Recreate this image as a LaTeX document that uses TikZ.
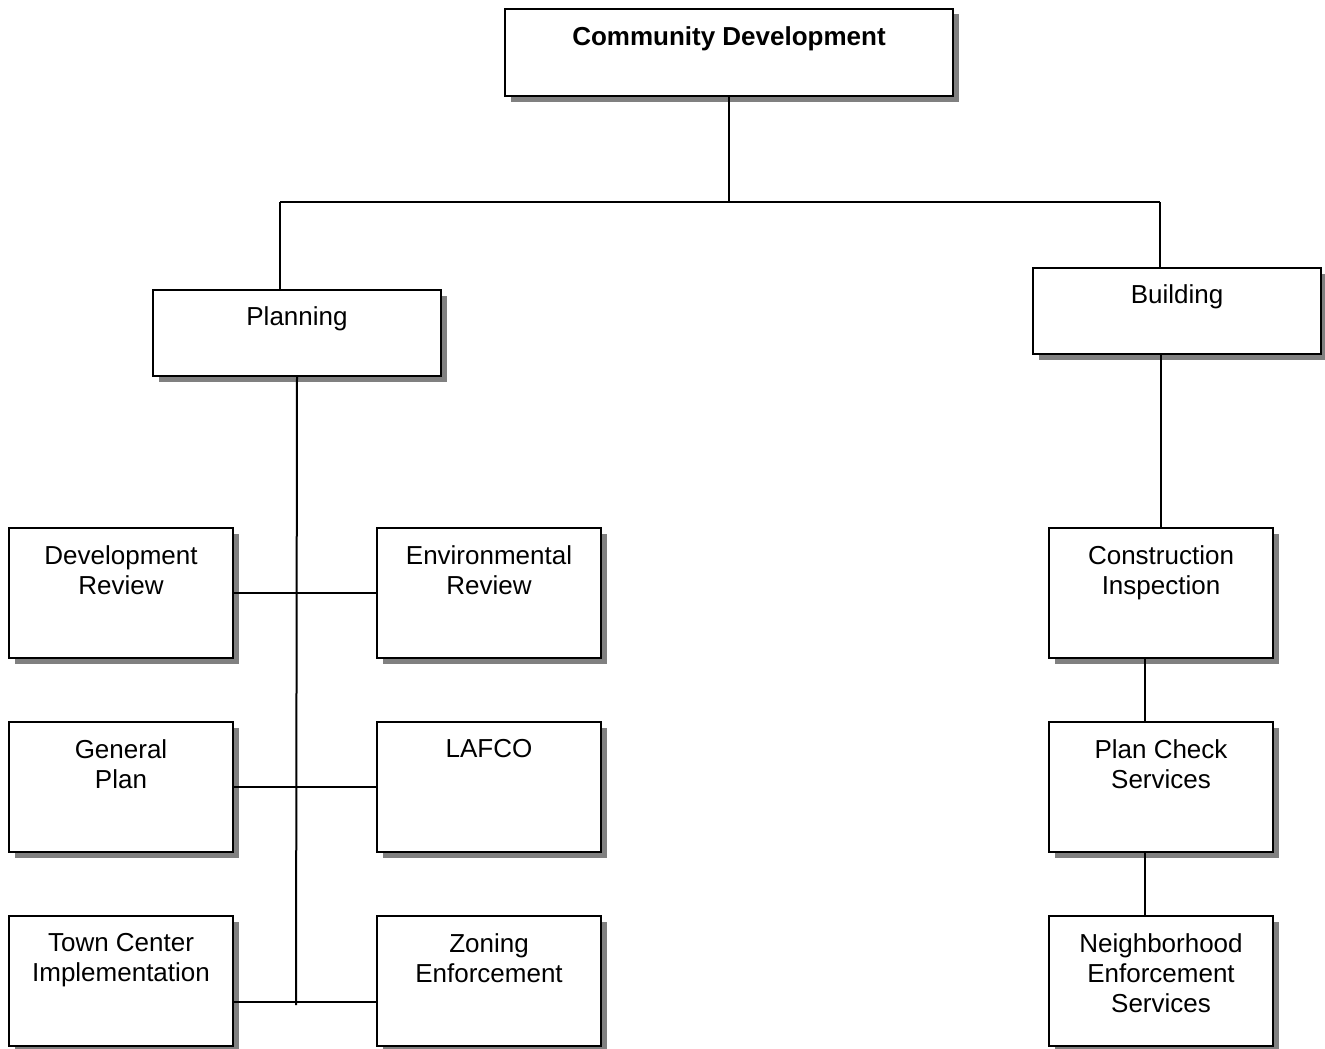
\documentclass[tikz,border=0pt]{standalone}
\usepackage{fontspec}
\setmainfont{Liberation Sans}
\usetikzlibrary{shadows}
\definecolor{shadowgray}{RGB}{128,128,128}
\tikzset{
  orgbox/.style={draw=black, line width=2pt, fill=white, inner sep=0pt,
    anchor=north west,
    drop shadow={shadow xshift=5.5pt, shadow yshift=-5.5pt, fill=shadowgray, opacity=1}},
  wide/.style={minimum width=288pt, minimum height=86pt},
  unit/.style={minimum width=224pt, minimum height=130pt},
  lbl/.style={anchor=north, align=center, inner sep=0pt,
    font=\fontsize{26}{30}\selectfont},
  conn/.style={line width=2pt}
}
\begin{document}
\begin{tikzpicture}[x=1pt,y=-1pt]
\useasboundingbox (0,0) rectangle (1325,1049);
% boxes
\node[orgbox, minimum width=448pt, minimum height=87pt] (cd) at (504,8) {};
\node[orgbox, wide] (pl) at (152,289) {};
\node[orgbox, wide] (bu) at (1032,267) {};
\node[orgbox, unit] (dr) at (8,527) {};
\node[orgbox, unit] (er) at (376,527) {};
\node[orgbox, unit] (gp) at (8,721) {};
\node[orgbox, unit] (la) at (376,721) {};
\node[orgbox, unit] (tc) at (8,915) {};
\node[orgbox, unit] (zo) at (376,915) {};
\node[orgbox, unit] (ci) at (1048,527) {};
\node[orgbox, unit] (pc) at (1048,721) {};
\node[orgbox, unit] (ne) at (1048,915) {};
% labels
\node[lbl, font=\fontsize{26}{30}\selectfont\bfseries] (tcd) at ([yshift=-18pt]cd.north) {Community Development};
\node[lbl] (tpl) at ([yshift=-17pt]pl.north) {Planning};
\node[lbl] (tbu) at ([yshift=-17pt]bu.north) {Building};
\node[lbl] (tdr) at ([yshift=-18pt]dr.north) {Development\\Review};
\node[lbl] (ter) at ([yshift=-18pt]er.north) {Environmental\\Review};
\node[lbl] (tgp) at ([yshift=-18pt]gp.north) {General\\Plan};
\node[lbl] (tla) at ([yshift=-18pt]la.north) {LAFCO};
\node[lbl] (ttc) at ([yshift=-18pt]tc.north) {Town Center\\Implementation};
\node[lbl] (tzo) at ([yshift=-18pt]zo.north) {Zoning\\Enforcement};
\node[lbl] (tci) at ([yshift=-18pt]ci.north) {Construction\\Inspection};
\node[lbl] (tpc) at ([yshift=-18pt]pc.north) {Plan Check\\Services};
\node[lbl] (tne) at ([yshift=-18pt]ne.north) {Neighborhood\\Enforcement\\Services};
% connectors
\coordinate (hl) at (280,202);
\coordinate (hr) at (1160,202);
\coordinate (pend) at (296,1005);
\draw[conn] (cd.south) -- (cd.south |- hl);
\draw[conn] (hl) -- (hr);
\draw[conn] (hl) -- (hl |- pl.north);
\draw[conn] (hr) -- (hr |- bu.north);
\draw[conn] (pl.south) -- (pend);
\draw[conn] (dr.east) -- (er.west);
\draw[conn] (gp.east) -- (la.west);
\draw[conn] ([yshift=-21pt]tc.east) -- ([yshift=-21pt]zo.west);
\draw[conn] (ci.north |- bu.south) -- (ci.north);
\draw[conn] ([xshift=-16pt]ci.south) -- ([xshift=-16pt]pc.north);
\draw[conn] ([xshift=-16pt]pc.south) -- ([xshift=-16pt]ne.north);
\end{tikzpicture}
\end{document}
